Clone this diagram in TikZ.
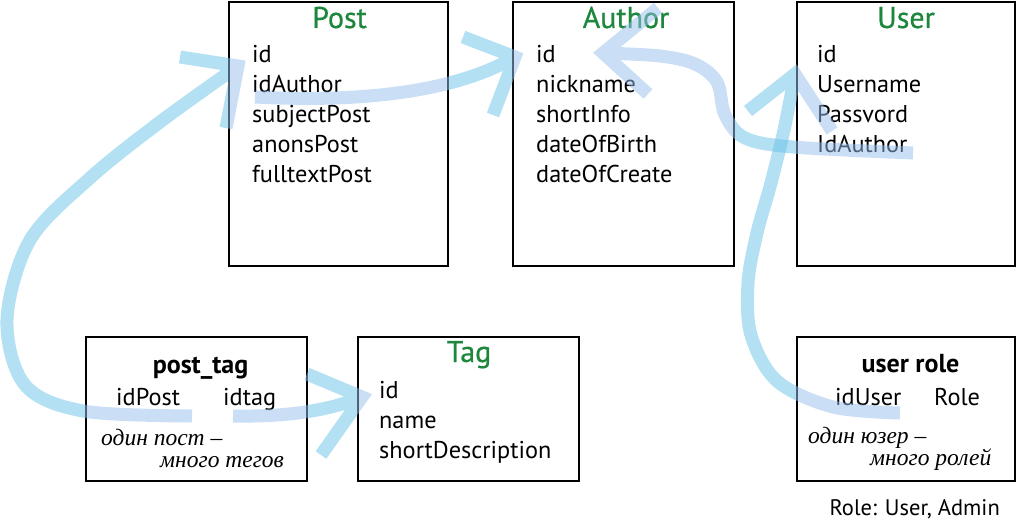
\documentclass[tikz,border=0pt]{standalone}
\usepackage{fontspec}
\setmainfont{PT Sans}
\newfontfamily\handfont{Liberation Serif}
\newfontfamily\ttlfont[FakeBold=0.6]{PT Sans}
\definecolor{ttl}{RGB}{30,135,62}
\definecolor{sky}{RGB}{104,194,233}
\definecolor{lav}{RGB}{151,193,237}
\tikzset{
  tbox/.style={draw=black, line width=1.8pt, inner sep=0pt, fill=none},
  fld/.style={inner sep=0pt, anchor=base west, font=\fontsize{24.3}{28}\selectfont},
  ttlstyle/.style={inner sep=0pt, anchor=base, text=ttl, font=\fontsize{30}{34}\ttlfont},
  bld/.style={inner sep=0pt, anchor=base, font=\fontsize{26}{30}\selectfont\bfseries},
  note/.style={inner sep=0pt, anchor=base west, font=\fontsize{23.5}{26}\selectfont\handfont\itshape},
  conn/.style={line width=13pt, opacity=0.5, line join=miter, line cap=butt}
}
\newcommand\drawconns{%
  % post_tag idPost -> Post
  \draw[conn] plot[smooth, tension=0.55] coordinates {(s1) (83,411) (25,385) (7,320) (30,240) (90,178) (160,122) (t1)}
     (a1u) -- (t1) -- (a1d);
  % Post idAuthor -> Author
  \draw[conn] (s2) .. controls (350,102) and (450,95) .. (t2)
     (a2u) -- (t2) -- (a2d);
  % User IdAuthor -> Author
  \draw[conn] plot[smooth, tension=0.55] coordinates {(s3) (793,147) (745,138) (725,115) (717,82) (695,64) (660,56) (t3)}
     (a3u) -- (t3) -- (a3d);
  % user role idUser -> User
  \draw[conn] plot[smooth, tension=0.55] coordinates {(s4) (833,407) (777,381) (751,335) (748,283) (757,233) (771,183) (784,130) (t4)}
     (a4l) -- (t4) -- (a4r);
  % post_tag idtag -> Tag
  \draw[conn] (s5) .. controls (290,417) and (330,410) .. (t5)
     (a5u) -- (t5) -- (a5d);
}
\begin{document}
\begin{tikzpicture}[x=1pt, y=-1pt]
\fill[white] (0,0) rectangle (1019,521);
\useasboundingbox (0,0) rectangle (1019,521);

% boxes
\node[tbox, minimum width=219pt, minimum height=264pt] (post) at (338.5,134) {};
\node[tbox, minimum width=221pt, minimum height=264pt] (author) at (623.5,134) {};
\node[tbox, minimum width=218pt, minimum height=264pt] (user) at (906,134) {};
\node[tbox, minimum width=221pt, minimum height=144pt] (posttag) at (196.5,409) {};
\node[tbox, minimum width=221pt, minimum height=144pt] (tag) at (468.5,409) {};
\node[tbox, minimum width=218pt, minimum height=144pt] (userrole) at (906,409) {};

% titles
\node[ttlstyle] (posttitle) at (339.5,28) {Post};
\node[ttlstyle] (authortitle) at (626,28) {Author};
\node[ttlstyle] (usertitle) at (906,28) {User};
\node[ttlstyle] (tagtitle) at (469,362) {Tag};
\node[bld] (pttitle) at (200.5,373) {post\_tag};
\node[bld] (urtitle) at (910.5,372) {user role};

% fields
\foreach \t [count=\i from 0] in {id,idAuthor,subjectPost,anonsPost,fulltextPost}
  \node[fld] (post-\i) at (252,63+30*\i) {\t};
\foreach \t [count=\i from 0] in {id,nickname,shortInfo,dateOfBirth,dateOfCreate}
  \node[fld] (author-\i) at (536,63+30*\i) {\t};
\foreach \t [count=\i from 0] in {id,Username,Passvord,IdAuthor}
  \node[fld] (user-\i) at (817,63+30*\i) {\t};
\foreach \t [count=\i from 0] in {id,name,shortDescription}
  \node[fld] (tag-\i) at (379,398+30*\i) {\t};

\node[fld] (idpost) at (116,405) {idPost};
\node[fld] (idtag) at (223,405) {idtag};
\node[note] (pt-note1) at (101,445) {один пост –};
\node[note] (pt-note2) at (160,467) {много тегов};

\node[fld] (iduser) at (835,405) {idUser};
\node[fld] (role) at (934,405) {Role};
\node[note] (ur-note1) at (808,443) {один юзер –};
\node[note] (ur-note2) at (870,465) {много ролей};

\node[fld, anchor=base east, font=\fontsize{22.5}{26}\selectfont] (rolelist) at (1000,515) {Role: User, Admin};

% connector end points
\coordinate (s1) at (192,416);  \coordinate (t1) at (238,66);
\coordinate (a1u) at (180,57);  \coordinate (a1d) at (226,128);
\coordinate (s2) at (255,97);   \coordinate (t2) at (515,57);
\coordinate (a2u) at (463,37);  \coordinate (a2d) at (493,115);
\coordinate (s3) at (913,153);  \coordinate (t3) at (603,53);
\coordinate (a3u) at (658,8);   \coordinate (a3d) at (648,94);
\coordinate (s4) at (900,413);  \coordinate (t4) at (795,74);
\coordinate (a4l) at (748,111); \coordinate (a4r) at (832,131);
\coordinate (s5) at (233,416);  \coordinate (t5) at (362,397);
\coordinate (a5u) at (307,374); \coordinate (a5d) at (321,455);

% connectors outside boxes (sky blue)
\begin{scope}
  \clip (0,0) rectangle (1019,521)
    (post.north east) rectangle (post.south west)
    (author.north east) rectangle (author.south west)
    (user.north east) rectangle (user.south west)
    (posttag.north east) rectangle (posttag.south west)
    (tag.north east) rectangle (tag.south west)
    (userrole.north east) rectangle (userrole.south west);
  \tikzset{conn/.append style={draw=sky}}
  \drawconns
\end{scope}
% connectors inside boxes (lavender blue)
\begin{scope}
  \clip (post.north west) rectangle (post.south east)
    (author.north west) rectangle (author.south east)
    (user.north west) rectangle (user.south east)
    (posttag.north west) rectangle (posttag.south east)
    (tag.north west) rectangle (tag.south east)
    (userrole.north west) rectangle (userrole.south east);
  \tikzset{conn/.append style={draw=lav}}
  \drawconns
\end{scope}
\end{tikzpicture}
\end{document}
